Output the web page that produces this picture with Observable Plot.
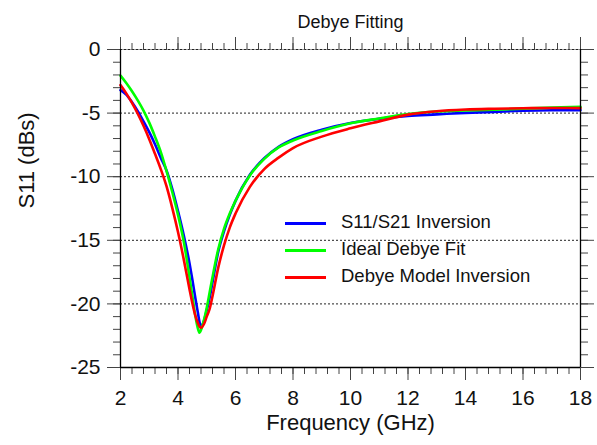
<!DOCTYPE html>
<html><head><meta charset="utf-8">
<script src="https://cdn.jsdelivr.net/npm/d3@7"></script>
<script src="https://cdn.jsdelivr.net/npm/@observablehq/plot@0.6"></script>
<style>
body{margin:0;background:#fff;font-family:"Liberation Sans",Arial,sans-serif;}
#wrap{position:relative;width:597px;height:445px;}
#legend{position:absolute;left:285px;top:210px;font-size:18.5px;color:#111;}
.row{display:flex;align-items:center;height:27px;}
.sw{width:41px;height:3px;margin-right:15px;}
.lbl{margin-top:-3px;}
</style></head><body><div id="wrap"><div id="legend"></div></div>
<script>
const freq        = [2.0, 2.2, 2.4, 2.6, 2.8, 3.0, 3.2, 3.4, 3.6, 3.8, 4.0, 4.2, 4.4, 4.5, 4.6, 4.7, 4.75, 4.8, 4.9, 5.0, 5.1, 5.2, 5.4, 5.6, 5.8, 6.0, 6.5, 7.0, 7.5, 8.0, 9.0, 10, 11, 12, 13, 14, 15, 16, 17, 18];
const s11s21      = [-3.2, -3.55, -4.15, -4.85, -5.65, -6.5, -7.45, -8.5, -9.5, -10.95, -12.7, -14.6, -16.8, -18.1, -19.5, -20.8, -21.45, -21.8, -21.35, -20.5, -19.5, -18.3, -15.9, -14.3, -13.0, -11.9, -9.85, -8.55, -7.65, -7.05, -6.3, -5.78, -5.45, -5.22, -5.1, -4.98, -4.9, -4.82, -4.78, -4.77];
const idealDebye  = [-2.05, -2.63, -3.28, -4.0, -4.8, -5.75, -6.85, -8.05, -9.55, -11.2, -13.0, -15.1, -17.9, -19.4, -20.9, -22.0, -22.27, -22.05, -21.3, -20.3, -19.1, -17.9, -15.7, -14.1, -12.9, -11.9, -9.9, -8.6, -7.7, -7.15, -6.4, -5.8, -5.42, -5.08, -4.88, -4.8, -4.74, -4.65, -4.57, -4.51];
const debyeModel  = [-2.8, -3.45, -4.2, -5.05, -6.0, -7.05, -8.2, -9.4, -10.75, -12.45, -14.35, -16.5, -18.85, -19.95, -20.9, -21.55, -21.78, -21.88, -21.6, -21.0, -20.4, -19.4, -17.15, -15.4, -14.0, -12.9, -10.8, -9.4, -8.5, -7.75, -6.85, -6.2, -5.65, -5.12, -4.85, -4.72, -4.66, -4.62, -4.6, -4.61];

const seriesNames  = ["S11/S21 Inversion", "Ideal Debye Fit", "Debye Model Inversion"];
const seriesColors = ["#0000ff", "#00ff00", "#ff0000"];
const seriesValues = [s11s21, idealDebye, debyeModel];

const xMajor = [2, 4, 6, 8, 10, 12, 14, 16, 18];
const yMajor = [0, -5, -10, -15, -20, -25];
const yGrid  = [0, -5, -10, -15, -20];
const xMinor = d3.range(0, 41).map(i => 2 + i * 0.4);
const yMinor = d3.range(0, 26).map(i => -i);

const rows = [];
seriesValues.forEach((vals, si) => {
  vals.forEach((v, i) => rows.push({f: freq[i], v, s: seriesNames[si]}));
});

const tickStroke = "#444";
const chart = Plot.plot({
  width: 597, height: 445,
  marginLeft: 120, marginRight: 17, marginTop: 49, marginBottom: 78,
  x: {domain: [2, 18]},
  y: {domain: [-25, 0]},
  color: {domain: seriesNames, range: seriesColors},
  style: {fontFamily: "'Liberation Sans', Arial, sans-serif", background: "white", color: "#111"},
  marks: [
    Plot.ruleY([0], {stroke: "#999", strokeWidth: 1}),
    Plot.ruleY(yGrid, {stroke: "#222", strokeDasharray: "2,2", strokeWidth: 1}),
    Plot.line(rows, {x: "f", y: "v", z: "s", stroke: "s", strokeWidth: 2.6, curve: "monotone-x"}),
    Plot.axisX({anchor: "bottom", ticks: xMinor, tickSize: 7, text: null, label: null, stroke: tickStroke}),
    Plot.axisX({anchor: "bottom", ticks: xMajor, tickSize: 13, tickPadding: 10, fontSize: 21, label: null, tickFormat: d => String(d), stroke: tickStroke}),
    Plot.axisX({anchor: "top", ticks: xMinor, tickSize: 7, text: null, label: null, stroke: tickStroke}),
    Plot.axisX({anchor: "top", ticks: xMajor, tickSize: 13, text: null, label: null, stroke: tickStroke}),
    Plot.axisY({anchor: "left", ticks: yMinor, tickSize: 7, text: null, label: null, stroke: tickStroke}),
    Plot.axisY({anchor: "left", ticks: yMajor, tickSize: 13, tickPadding: 7, fontSize: 21, label: null, tickFormat: d => String(d), stroke: tickStroke}),
    Plot.axisY({anchor: "right", ticks: yMinor, tickSize: 7, text: null, label: null, stroke: tickStroke}),
    Plot.axisY({anchor: "right", ticks: yMajor, tickSize: 13, text: null, label: null, stroke: tickStroke}),
    Plot.ruleX([2, 18], {stroke: "#000", strokeWidth: 1.3}),
    Plot.ruleY([-25], {stroke: "#000", strokeWidth: 1.3}),
    Plot.text(["Debye Fitting"], {frameAnchor: "top", dy: -34, fontSize: 18, fill: "#111"}),
    Plot.text(["S11 (dBs)"], {frameAnchor: "left", dx: -94, rotate: -90, fontSize: 22, fill: "#111"}),
    Plot.text(["Frequency (GHz)"], {frameAnchor: "bottom", dy: 62, fontSize: 22, fill: "#111"})
  ]
});
document.getElementById("wrap").prepend(chart);

const legend = document.getElementById("legend");
seriesNames.forEach((name, i) => {
  const row = document.createElement("div");
  row.className = "row";
  const sw = document.createElement("div");
  sw.className = "sw";
  sw.style.background = seriesColors[i];
  const lbl = document.createElement("span");
  lbl.className = "lbl";
  lbl.textContent = name;
  row.appendChild(sw); row.appendChild(lbl);
  legend.appendChild(row);
});
</script>
</body></html>
